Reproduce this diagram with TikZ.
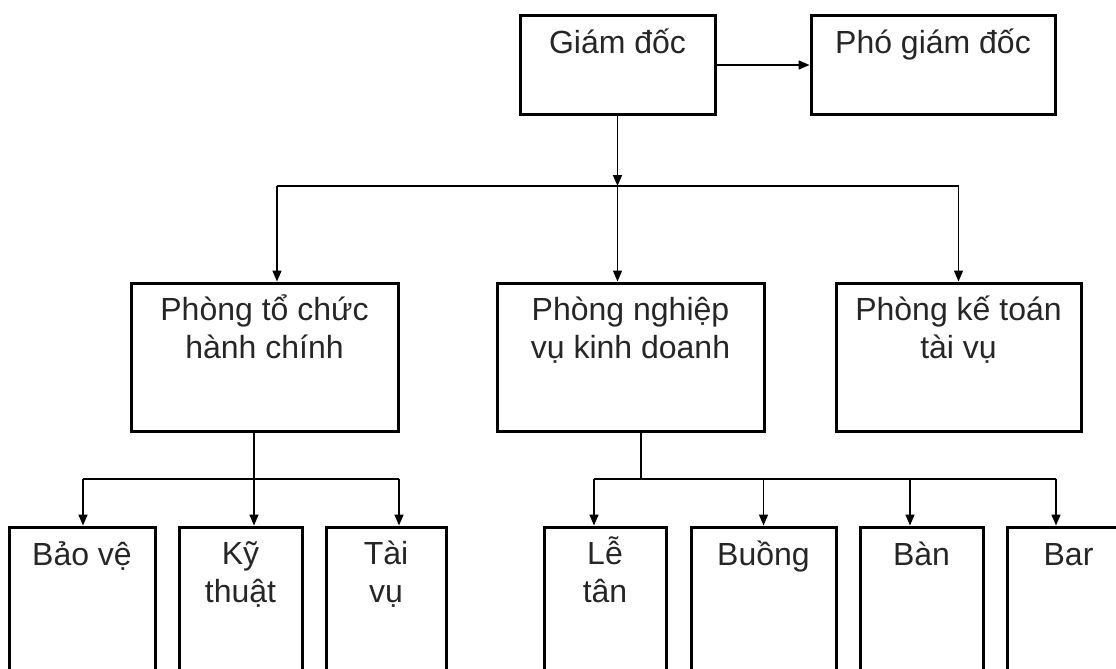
\documentclass[tikz,border=0pt]{standalone}
\usepackage{fontspec}
\setmainfont{Liberation Sans}
\usetikzlibrary{arrows.meta}

\begin{document}
\begin{tikzpicture}[x=1pt, y=1pt,
    box/.style = {draw, line width=3pt, inner sep=0pt},
    lbl/.style = {anchor=base, align=center, inner sep=0pt,
      text=black!85, font=\fontsize{32}{38}\selectfont},
    conn/.style = {line width=1.6pt},
    arr/.style = {conn, -{Triangle[length=11pt, width=9pt]}}]
  \useasboundingbox (0,0) rectangle (1116,-669);
  \clip (0,0) rectangle (1116,-669);
  % top
  \node[box, minimum width=195pt, minimum height=98pt] (giamdoc) at (617.5,-65) {};
  \node[box, minimum width=244pt, minimum height=98pt] (pho) at (933,-65) {};
  \node[lbl] (giamdoc-t) at ([yshift=-39pt]giamdoc.north) {Giám đốc};
  \node[lbl] (pho-t) at ([yshift=-39pt]pho.north) {Phó giám đốc};
  % phong (two lines: base is the last line)
  \node[box, minimum width=267pt, minimum height=148pt] (tochuc) at (264.5,-357) {};
  \node[box, minimum width=267pt, minimum height=148pt] (nghiepvu) at (630.5,-357) {};
  \node[box, minimum width=245pt, minimum height=148pt] (ketoan) at (958.5,-357) {};
  \node[lbl] (tochuc-t) at ([yshift=-77pt]tochuc.north) {Phòng tổ chức\\hành chính};
  \node[lbl] (nghiepvu-t) at ([yshift=-77pt]nghiepvu.north) {Phòng nghiệp\\vụ kinh doanh};
  \node[lbl] (ketoan-t) at ([yshift=-77pt]ketoan.north) {Phòng kế toán\\tài vụ};
  % bottom row
  \node[box, minimum width=146pt, minimum height=173pt] (baove) at (82,-613.5) {};
  \node[box, minimum width=123pt, minimum height=173pt] (kythuat) at (240.5,-613.5) {};
  \node[box, minimum width=120pt, minimum height=173pt] (taivu) at (386,-613.5) {};
  \node[box, minimum width=122pt, minimum height=173pt] (letan) at (605,-613.5) {};
  \node[box, minimum width=145pt, minimum height=173pt] (buong) at (763.5,-613.5) {};
  \node[box, minimum width=123pt, minimum height=173pt] (ban) at (921.5,-613.5) {};
  \node[box, minimum width=123pt, minimum height=173pt] (bar) at (1068.5,-613.5) {};
  \node[lbl] (baove-t) at ([yshift=-40pt]baove.north) {Bảo vệ};
  \node[lbl] (kythuat-t) at ([yshift=-77pt]kythuat.north) {Kỹ\\thuật};
  \node[lbl] (taivu-t) at ([yshift=-77pt]taivu.north) {Tài\\vụ};
  \node[lbl] (letan-t) at ([yshift=-77pt]letan.north) {Lễ\\tân};
  \node[lbl] (buong-t) at ([yshift=-40pt]buong.north) {Buồng};
  \node[lbl] (ban-t) at ([yshift=-40pt]ban.north) {Bàn};
  \node[lbl] (bar-t) at ([yshift=-40pt]bar.north) {Bar};
  % junctions
  \coordinate (j1) at (617.5,-186);
  \coordinate (j1l) at (277,-186);
  \coordinate (j1r) at (958.5,-186);
  \coordinate (j2) at (254,-479);
  \coordinate (j2l) at (83,-479);
  \coordinate (j2r) at (399,-479);
  \coordinate (j3) at (641,-479);
  \coordinate (j3l) at (594,-479);
  \coordinate (j3m) at (910,-479);
  \coordinate (j3r) at (1056,-479);
  % connectors
  \draw[arr] (giamdoc.east) -- (pho.west);
  \draw[arr] (giamdoc.south) -- (j1);
  \draw[conn] (j1l) -- (j1r);
  \draw[arr] (j1l) -- (j1l |- tochuc.north);
  \draw[arr] (j1) -- (j1 |- nghiepvu.north);
  \draw[arr] (j1r) -- (j1r |- ketoan.north);
  \draw[conn] (j2 |- tochuc.south) -- (j2);
  \draw[conn] (j2l) -- (j2r);
  \draw[arr] (j2l) -- (j2l |- baove.north);
  \draw[arr] (j2) -- (j2 |- kythuat.north);
  \draw[arr] (j2r) -- (j2r |- taivu.north);
  \draw[conn] (j3 |- nghiepvu.south) -- (j3);
  \draw[conn] (j3l) -- (j3r);
  \draw[arr] (j3l) -- (j3l |- letan.north);
  \draw[arr] (buong.north |- j3) -- (buong.north);
  \draw[arr] (j3m) -- (j3m |- ban.north);
  \draw[arr] (j3r) -- (j3r |- bar.north);
\end{tikzpicture}
\end{document}
